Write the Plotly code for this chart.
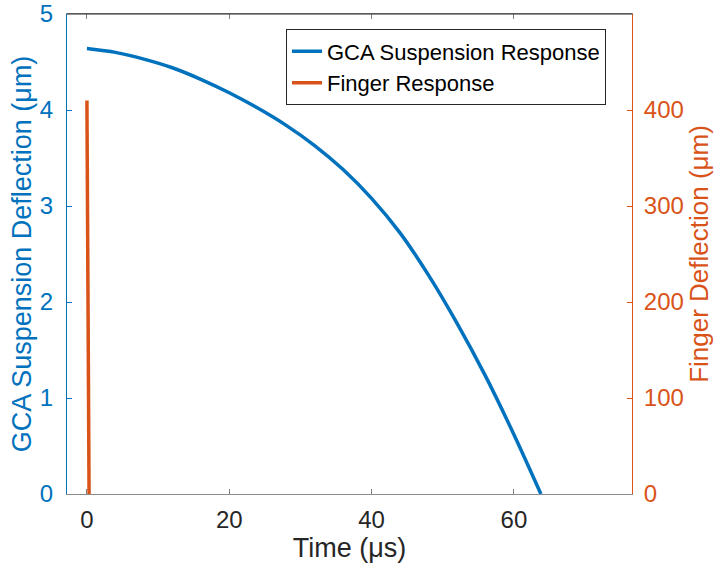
import plotly.graph_objects as go

# GCA suspension response (time in µs, deflection in µm)
gca_time = [0, 4, 8, 12, 16, 20, 24, 28, 32, 36, 40, 44, 48, 52, 56, 60, 63.8]
gca_defl = [4.64, 4.60, 4.53, 4.44, 4.32, 4.18, 4.02, 3.84, 3.63, 3.38, 3.08, 2.72, 2.28, 1.78, 1.23, 0.62, 0.0]

# Finger response
finger_time = [0, 0.3]
finger_defl = [410, 0]

x_ticks = [0, 20, 40, 60]
left_ticks = [0, 1, 2, 3, 4, 5]
right_ticks = [0, 100, 200, 300, 400]

BLUE = "#0072BD"
ORANGE = "#D95319"
DARK = "#262626"
FONT = "Liberation Sans, Arial, Helvetica, sans-serif"

fig = go.Figure()
fig.add_trace(go.Scatter(x=gca_time, y=gca_defl, mode="lines", name="GCA Suspension Response",
                         line=dict(color=BLUE, width=3.5, shape="spline", smoothing=0.8), yaxis="y"))
fig.add_trace(go.Scatter(x=finger_time, y=finger_defl, mode="lines", name="Finger Response",
                         line=dict(color=ORANGE, width=3.5), yaxis="y2"))

fig.update_layout(
    width=717, height=572,
    margin=dict(l=67, r=85, t=14, b=78, autoexpand=False),
    paper_bgcolor="white", plot_bgcolor="white",
    font=dict(family=FONT, color=DARK),
    xaxis=dict(range=[-2.8, 76.6], tickvals=x_ticks, ticks="inside", ticklen=5, tickcolor="#7f7f7f",
               showline=True, linecolor="#8c8c8c", linewidth=1, mirror="ticks", showgrid=False, zeroline=False,
               automargin=False,
               tickfont=dict(size=24, color=DARK, family=FONT), ticklabelstandoff=4,
               title=dict(text="Time (μs)", font=dict(size=27, color=DARK, family=FONT), standoff=6)),
    yaxis=dict(range=[0, 5], tickvals=left_ticks, ticks="inside", ticklen=5, tickcolor=BLUE,
               showline=True, linecolor=BLUE, linewidth=1, showgrid=False, zeroline=False,
               automargin=False,
               tickfont=dict(size=24, color=BLUE, family=FONT), ticklabelstandoff=8,
               title=dict(text="GCA Suspension Deflection (μm)", font=dict(size=27, color=BLUE, family=FONT), standoff=0)),
    yaxis2=dict(range=[0, 500], tickvals=right_ticks, ticks="inside", ticklen=5, tickcolor=ORANGE,
                overlaying="y", side="right", anchor="x",
                showline=True, linecolor=ORANGE, linewidth=1, showgrid=False, zeroline=False,
                automargin=False,
                tickfont=dict(size=24, color=ORANGE, family=FONT), ticklabelstandoff=6,
                title=dict(text="Finger Deflection (μm)", font=dict(size=26, color=ORANGE, family=FONT), standoff=1)),
    legend=dict(x=0.954, y=0.968, xanchor="right", yanchor="top", bgcolor="white",
                bordercolor=DARK, borderwidth=1, font=dict(size=22, color="black", family=FONT),
                tracegroupgap=0),
    showlegend=True,
    shapes=[dict(type="line", xref="paper", yref="paper", x0=0, x1=1, y0=1, y1=1,
                 line=dict(color=DARK, width=1), layer="above")],
)

fig.write_html("out.html")
